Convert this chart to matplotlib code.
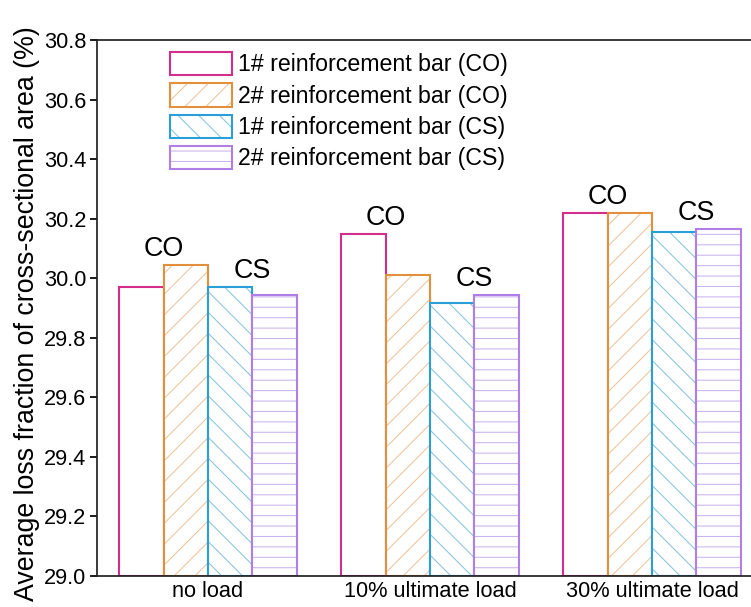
import matplotlib
matplotlib.use("Agg")
from matplotlib import pyplot as plt
from matplotlib.legend_handler import HandlerTuple
import numpy as np

categories = ["no load", "10% ultimate load", "30% ultimate load"]
seriesLabels = ["1# reinforcement bar (CO)", "2# reinforcement bar (CO)",
				"1# reinforcement bar (CS)", "2# reinforcement bar (CS)"]
bar1CO = [29.97, 30.15, 30.22]
bar2CO = [30.045, 30.01, 30.218]
bar1CS = [29.97, 29.917, 30.156]
bar2CS = [29.942, 29.944, 30.166]
yTicks = [29.0, 29.2, 29.4, 29.6, 29.8, 30.0, 30.2, 30.4, 30.6, 30.8]

edgeColors = ["#D42E8C", "#E2903C", "#2A9ED8", "#B07FE6"]
hatchColors = ["#FFFFFF", "#EFC49C", "#88C4DF", "#C9B4EE"]
hatches = [None, "//", "\\\\", "--"]

plt.rcParams["font.family"] = ["Liberation Sans", "DejaVu Sans"]
plt.rcParams["hatch.linewidth"] = 0.6

DPI = 125
fig = plt.figure(figsize = (751 / DPI, 607 / DPI), dpi = DPI)
ax = fig.add_axes([97 / 751, 31 / 607, 666 / 751, 536 / 607])

x = np.arange(len(categories))
width = 0.2
allSeries = [bar1CO, bar2CO, bar1CS, bar2CS]
handles = []
for i, values in enumerate(allSeries):
	pos = x + (i - 1.5) * width
	heights = np.array(values) - 29.0
	# hatch layer first, then the coloured outline on top
	hatchBars = ax.bar(pos, heights, width, bottom = 29.0, color = "white",
					   edgecolor = hatchColors[i], hatch = hatches[i], linewidth = 0)
	edgeBars = ax.bar(pos, heights, width, bottom = 29.0, fill = False,
					  edgecolor = edgeColors[i], linewidth = 1.2)
	handles.append((hatchBars[0], edgeBars[0]))

# CO / CS labels above each pair of bars
for j in range(len(categories)):
	topCO = max(bar1CO[j], bar2CO[j])
	topCS = max(bar1CS[j], bar2CS[j])
	ax.text(x[j] - width, topCO + 0.01, "CO", ha = "center", va = "bottom", fontsize = 15.5)
	ax.text(x[j] + width, topCS + 0.01, "CS", ha = "center", va = "bottom", fontsize = 15.5)

ax.set_xlim(-0.5, 2.5)
ax.set_ylim(29.0, 30.8)
ax.set_yticks(yTicks)
ax.set_yticklabels(["{:.1f}".format(t) for t in yTicks], fontsize = 12.5)
ax.set_xticks(x)
ax.set_xticklabels(categories, fontsize = 12.5)
ax.tick_params(axis = "x", length = 0, pad = 3)
ax.tick_params(axis = "y", length = 4, width = 1.0, pad = 2)
for spine in ax.spines.values():
	spine.set_linewidth(1.0)
	spine.set_color("#222222")
ax.set_ylabel("Average loss fraction of cross-sectional area (%)", fontsize = 15.4)
ax.yaxis.set_label_coords(-0.085, 0.49)

ax.legend(handles, seriesLabels, handler_map = {tuple: HandlerTuple(ndivide = 1)},
		  loc = "upper left", bbox_to_anchor = (170 / 751, 1 - 52 / 607),
		  bbox_transform = fig.transFigure, frameon = False, fontsize = 13.3,
		  handlelength = 2.7, handleheight = 1.17, handletextpad = 0.25,
		  labelspacing = 0.3, borderpad = 0, borderaxespad = 0)

fig.savefig("out.png", dpi = DPI)
